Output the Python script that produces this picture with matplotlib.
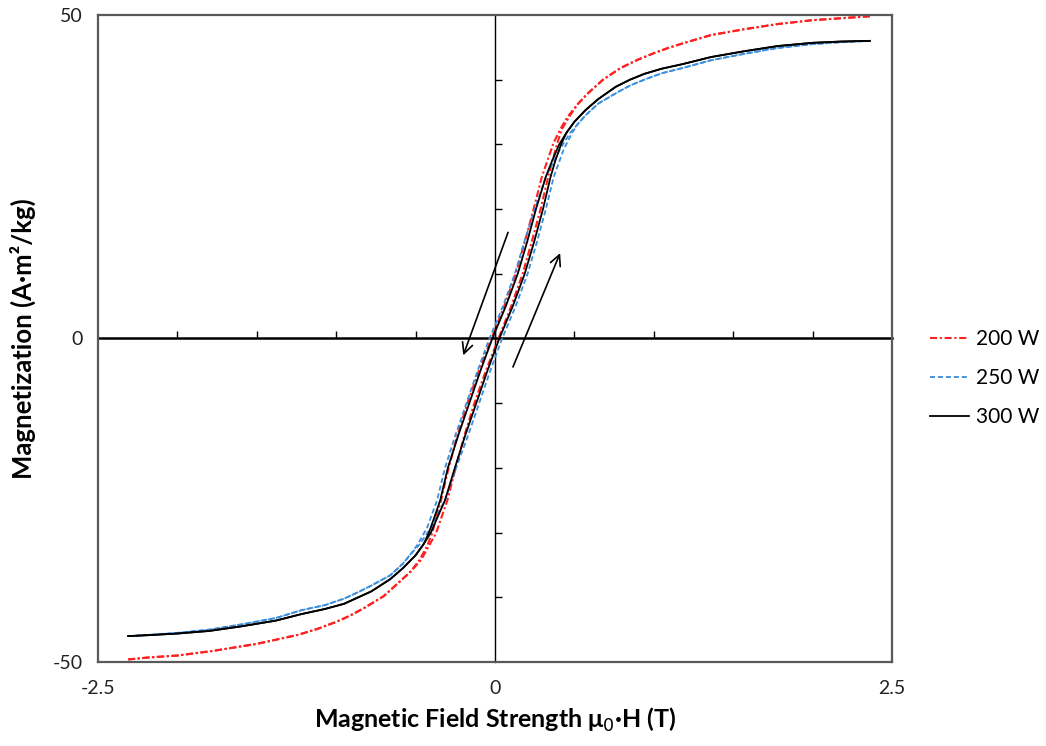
import matplotlib
matplotlib.use("Agg")
import matplotlib.pyplot as plt
import numpy as np

plt.rcParams['font.family'] = ['Lato', 'DejaVu Sans']

# ---- hysteresis loops: (mu0*H in T, magnetization in A·m²/kg) ----
# 200 W, field sweeping down (+H -> -H)
loop200_down = [(2.36, 49.8), (2.18, 49.5), (2.0, 49.2), (1.78, 48.6), (1.57, 47.8),
                (1.36, 46.9), (1.18, 45.6), (1.09, 44.9), (1.0, 44.1), (0.9, 43.1),
                (0.79, 41.8), (0.68, 40.0), (0.585, 37.9), (0.52, 36.2), (0.455, 34.2),
                (0.41, 32.3), (0.368, 30.2), (0.295, 25.0), (0.243, 20.0), (0.188, 15.0),
                (0.13, 10.0), (0.058, 5.0), (-0.022, 0.0), (-0.102, -5.0), (-0.174, -10.0),
                (-0.237, -15.0), (-0.292, -20.0), (-0.34, -25.0), (-0.397, -30.2),
                (-0.43, -32.2), (-0.475, -34.2), (-0.53, -36.0), (-0.61, -37.8),
                (-0.70, -39.8), (-0.82, -41.6), (-0.91, -42.8), (-1.0, -43.8),
                (-1.12, -44.9), (-1.24, -45.8), (-1.5, -47.2), (-1.78, -48.3),
                (-2.0, -49.0), (-2.18, -49.3), (-2.31, -49.6)]
# 200 W, field sweeping up (-H -> +H)
loop200_up = [(-2.31, -49.6), (-2.18, -49.3), (-2.0, -49.0), (-1.78, -48.3), (-1.5, -47.2),
              (-1.24, -45.8), (-1.12, -44.9), (-1.0, -43.8), (-0.91, -42.8), (-0.82, -41.6),
              (-0.70, -39.8), (-0.61, -37.8), (-0.53, -36.0), (-0.465, -34.2),
              (-0.42, -32.2), (-0.373, -30.2), (-0.3, -25.0), (-0.248, -20.0),
              (-0.193, -15.0), (-0.13, -10.0), (-0.058, -5.0), (0.022, 0.0), (0.102, 5.0),
              (0.174, 10.0), (0.232, 15.0), (0.287, 20.0), (0.335, 25.0), (0.392, 30.2),
              (0.42, 32.3), (0.465, 34.2), (0.52, 36.2), (0.585, 37.9), (0.68, 40.0),
              (0.79, 41.8), (0.9, 43.1), (1.0, 44.1), (1.09, 44.9), (1.18, 45.6),
              (1.36, 46.9), (1.57, 47.8), (1.78, 48.6), (2.0, 49.2), (2.18, 49.5),
              (2.36, 49.8)]

# 250 W
loop250_down = [(2.36, 46.0), (2.18, 45.8), (2.0, 45.5), (1.78, 44.9), (1.57, 44.0),
                (1.36, 43.0), (1.18, 41.8), (1.05, 41.0), (0.94, 40.0), (0.85, 39.1),
                (0.76, 37.9), (0.65, 36.3), (0.57, 34.5), (0.52, 33.1), (0.474, 31.8),
                (0.408, 29.2), (0.32, 25.0), (0.25, 20.0), (0.185, 15.0), (0.125, 10.0),
                (0.05, 5.0), (-0.035, 0.0), (-0.11, -5.0), (-0.18, -10.0), (-0.25, -15.0),
                (-0.315, -20.0), (-0.365, -25.0), (-0.427, -29.2), (-0.486, -31.8),
                (-0.53, -33.3), (-0.58, -34.8), (-0.66, -36.6), (-0.78, -38.2),
                (-0.87, -39.3), (-0.95, -40.2), (-1.07, -41.2), (-1.22, -42.0),
                (-1.38, -43.2), (-1.6, -44.2), (-1.8, -45.0), (-2.0, -45.5),
                (-2.18, -45.8), (-2.31, -46.0)]
loop250_up = [(-2.31, -46.0), (-2.18, -45.8), (-2.0, -45.5), (-1.8, -45.0), (-1.6, -44.2),
              (-1.38, -43.2), (-1.22, -42.0), (-1.07, -41.2), (-0.95, -40.2),
              (-0.87, -39.3), (-0.78, -38.2), (-0.66, -36.6), (-0.58, -34.8),
              (-0.53, -33.3), (-0.474, -31.8), (-0.403, -29.2), (-0.315, -25.0),
              (-0.245, -20.0), (-0.17, -15.0), (-0.1, -10.0), (-0.03, -5.0), (0.045, 0.0),
              (0.13, 5.0), (0.205, 10.0), (0.265, 15.0), (0.32, 20.0), (0.37, 25.0),
              (0.432, 29.2), (0.486, 31.8), (0.52, 33.1), (0.57, 34.5), (0.65, 36.3),
              (0.76, 37.9), (0.85, 39.1), (0.94, 40.0), (1.05, 41.0), (1.18, 41.8),
              (1.36, 43.0), (1.57, 44.0), (1.78, 44.9), (2.0, 45.5), (2.18, 45.8),
              (2.36, 46.0)]

# 300 W
loop300_down = [(2.36, 46.0), (2.18, 45.9), (2.0, 45.7), (1.78, 45.2), (1.57, 44.4),
                (1.36, 43.5), (1.18, 42.4), (1.05, 41.7), (0.94, 40.9), (0.85, 40.0),
                (0.76, 38.9), (0.65, 37.0), (0.57, 35.3), (0.50, 33.5), (0.45, 31.8),
                (0.404, 30.0), (0.36, 27.5), (0.32, 25.0), (0.258, 20.0), (0.203, 15.0),
                (0.143, 10.0), (0.068, 5.0), (-0.017, 0.0), (-0.092, -5.0), (-0.162, -10.0),
                (-0.232, -15.0), (-0.297, -20.0), (-0.345, -25.0), (-0.38, -27.5),
                (-0.416, -30.0), (-0.45, -31.8), (-0.50, -33.5), (-0.58, -35.5),
                (-0.66, -37.2), (-0.78, -39.1), (-0.87, -40.1), (-0.95, -41.0),
                (-1.07, -41.8), (-1.22, -42.6), (-1.38, -43.6), (-1.6, -44.5),
                (-1.8, -45.2), (-2.0, -45.6), (-2.18, -45.85), (-2.31, -46.0)]
loop300_up = [(-2.31, -46.0), (-2.18, -45.85), (-2.0, -45.6), (-1.8, -45.2), (-1.6, -44.5),
              (-1.38, -43.6), (-1.22, -42.6), (-1.07, -41.8), (-0.95, -41.0),
              (-0.87, -40.1), (-0.78, -39.1), (-0.66, -37.2), (-0.58, -35.5),
              (-0.50, -33.5), (-0.45, -31.8), (-0.404, -30.0), (-0.36, -27.5),
              (-0.315, -25.0), (-0.253, -20.0), (-0.188, -15.0), (-0.118, -10.0),
              (-0.048, -5.0), (0.027, 0.0), (0.112, 5.0), (0.187, 10.0), (0.247, 15.0),
              (0.302, 20.0), (0.35, 25.0), (0.38, 27.5), (0.416, 30.0), (0.45, 31.8),
              (0.50, 33.5), (0.57, 35.3), (0.65, 37.0), (0.76, 38.9), (0.85, 40.0),
              (0.94, 40.9), (1.05, 41.7), (1.18, 42.4), (1.36, 43.5), (1.57, 44.4),
              (1.78, 45.2), (2.0, 45.7), (2.18, 45.9), (2.36, 46.0)]

series_labels = ["200 W", "250 W", "300 W"]
x_ticks = [-2.5, 0, 2.5]
x_ticklabels = ["-2.5", "0", "2.5"]
y_ticks = [-50, 0, 50]
y_ticklabels = ["-50", "0", "50"]

# sweep-direction arrows (tail -> head) in data units
arrow_down = ((0.082, 16.4), (-0.20, -2.6))
arrow_up = ((0.113, -4.4), (0.41, 13.2))

# ---- figure ----
fig = plt.figure(figsize=(10.46, 7.46), dpi=100)
pos = [0.0937, 0.1126, 0.7591, 0.8673]
XLIM, YLIM = (-2.5, 2.5), (-50, 50)

# axes carrying the zero-crossing axis lines with their minor tick marks
zax = fig.add_axes(pos)
zax.set_xlim(*XLIM)
zax.set_ylim(*YLIM)
for side in ("top", "right"):
    zax.spines[side].set_visible(False)
zax.spines["bottom"].set_position(("data", 0))
zax.spines["left"].set_position(("data", 0))
zax.spines["bottom"].set_linewidth(1.8)
zax.spines["left"].set_linewidth(1.0)
zax.spines["bottom"].set_color("black")
zax.spines["left"].set_color("black")
zax.set_xticks(np.arange(-2.0, 2.01, 0.5))
zax.set_yticks(np.arange(-40, 41, 10))
zax.tick_params(axis="both", direction="in", length=5, width=1.0,
                labelbottom=False, labelleft=False, color="black")

# main axes: data, outer frame and labels
ax = fig.add_axes(pos)
ax.patch.set_visible(False)
ax.set_xlim(*XLIM)
ax.set_ylim(*YLIM)
for sp in ax.spines.values():
    sp.set_color("#595959")
    sp.set_linewidth(1.6)

red = "#FF2020"
blue = "#3A8EDB"
red_ls = (0, (3.4, 1.3, 1.0, 1.3))
blue_ls = (0, (2.8, 1.6))


def draw(loop, **kw):
    h, m = zip(*loop)
    return ax.plot(h, m, **kw)[0]


l200 = draw(loop200_down, color=red, lw=1.5, ls=red_ls)
draw(loop200_up, color=red, lw=1.5, ls=red_ls)
l250 = draw(loop250_down, color=blue, lw=1.3, ls=blue_ls)
draw(loop250_up, color=blue, lw=1.3, ls=blue_ls)
l300 = draw(loop300_down, color="black", lw=1.3)
draw(loop300_up, color="black", lw=1.3)

for tail, head in (arrow_down, arrow_up):
    ax.annotate("", xy=head, xytext=tail,
                arrowprops=dict(arrowstyle="->", color="black", lw=1.2,
                                mutation_scale=19, shrinkA=0, shrinkB=0))

ax.set_xticks(x_ticks)
ax.set_xticklabels(x_ticklabels)
ax.set_yticks(y_ticks)
ax.set_yticklabels(y_ticklabels)
ax.tick_params(axis="x", length=0, pad=13, labelsize=14, labelcolor="#222222")
ax.tick_params(axis="y", length=0, pad=11, labelsize=14, labelcolor="#222222")

ax.set_xlabel("Magnetic Field Strength μ$_0$·H (T)", fontsize=18,
              fontweight="bold", labelpad=6)
ax.set_ylabel("Magnetization (A·m²/kg)", fontsize=18.5, fontweight="bold",
              labelpad=12)

fig.legend([l200, l250, l300], series_labels, loc="center left",
           bbox_to_anchor=(0.889, 0.4933), frameon=False, fontsize=15,
           handlelength=1.9, handletextpad=0.33, labelspacing=0.92,
           borderpad=0, borderaxespad=0)

fig.savefig("out.png", dpi=100)
